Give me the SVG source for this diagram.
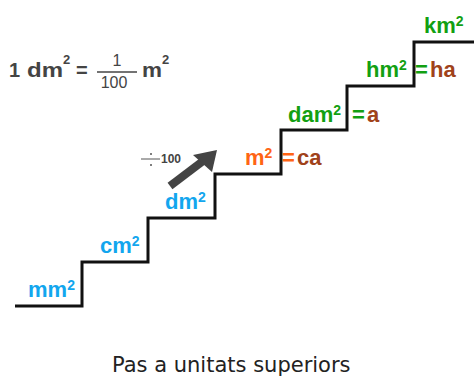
<svg xmlns="http://www.w3.org/2000/svg" width="476" height="376" viewBox="0 0 476 376">
<style>
.u{font-family:"Liberation Sans",Arial,sans-serif;font-weight:bold;font-size:22px}
.s{font-size:14px}
.blue{fill:#12a6ee}
.orange{fill:#ff6414}
.green{fill:#12a012}
.brown{fill:#a0421a}
.f{font-family:"Liberation Sans",Arial,sans-serif;fill:#444}
.fb{font-weight:bold;font-size:20px}
</style>
<rect width="476" height="376" fill="#fff"/>
<g id="stairs">
<polyline points="15,306 82,306 82,262 148,262 148,218 215,218 215,174 281,174 281,130 347,130 347,86 414,86 414,42 474,42" fill="none" stroke="#111" stroke-width="3" stroke-linejoin="miter"/>
</g>
<g id="formula" class="f">
<text class="fb" x="9" y="77">1</text>
<text class="fb" x="27" y="77" textLength="36" lengthAdjust="spacingAndGlyphs">dm</text>
<text x="63" y="64" font-size="13" font-weight="bold">2</text>
<text class="fb" x="76" y="77">=</text>
<line x1="97" y1="72" x2="137" y2="72" stroke="#444" stroke-width="1.5"/>
<text x="117" y="66" font-size="16" text-anchor="middle">1</text>
<text x="114" y="88" font-size="16" text-anchor="middle">100</text>
<text class="fb" x="142" y="77" textLength="20" lengthAdjust="spacingAndGlyphs">m</text>
<text x="162" y="64" font-size="13" font-weight="bold">2</text>
</g>
<g id="mm2"><text class="u blue" x="28" y="297">mm<tspan class="s" dy="-7">2</tspan></text></g>
<g id="cm2"><text class="u blue" x="100" y="253">cm<tspan class="s" dy="-7">2</tspan></text></g>
<g id="dm2"><text class="u blue" x="165" y="209">dm<tspan class="s" dy="-7">2</tspan></text></g>
<g id="m2"><text class="u orange" x="245" y="165">m<tspan class="s" dy="-7">2</tspan></text><text class="u orange" x="282" y="165">=</text><text class="u brown" x="297" y="165">ca</text></g>
<g id="dam2"><text class="u green" x="288" y="122">dam<tspan class="s" dy="-7">2</tspan></text><text class="u green" x="352" y="122">=</text><text class="u brown" x="367" y="122">a</text></g>
<g id="hm2"><text class="u green" x="366" y="77">hm<tspan class="s" dy="-7">2</tspan></text><text class="u green" x="415" y="77">=</text><text class="u brown" x="430" y="77">ha</text></g>
<g id="km2"><text class="u green" x="424" y="33">km<tspan class="s" dy="-7">2</tspan></text></g>
<g id="connectors">
<line x1="170" y1="186" x2="203" y2="161" stroke="#444" stroke-width="8"/>
<polygon points="217,150 193,155 212,172" fill="#444"/>
<line x1="141" y1="159" x2="160" y2="159" stroke="#555" stroke-width="1"/>
<circle cx="151" cy="154" r="1" fill="#555"/>
<circle cx="151" cy="165" r="1" fill="#555"/>
<text class="f" x="161" y="163" font-size="12" font-weight="bold">100</text>
</g>
<text x="112" y="372" font-family="DejaVu Sans,Verdana,sans-serif" font-size="21" fill="#222">Pas a unitats superiors</text>
</svg>
